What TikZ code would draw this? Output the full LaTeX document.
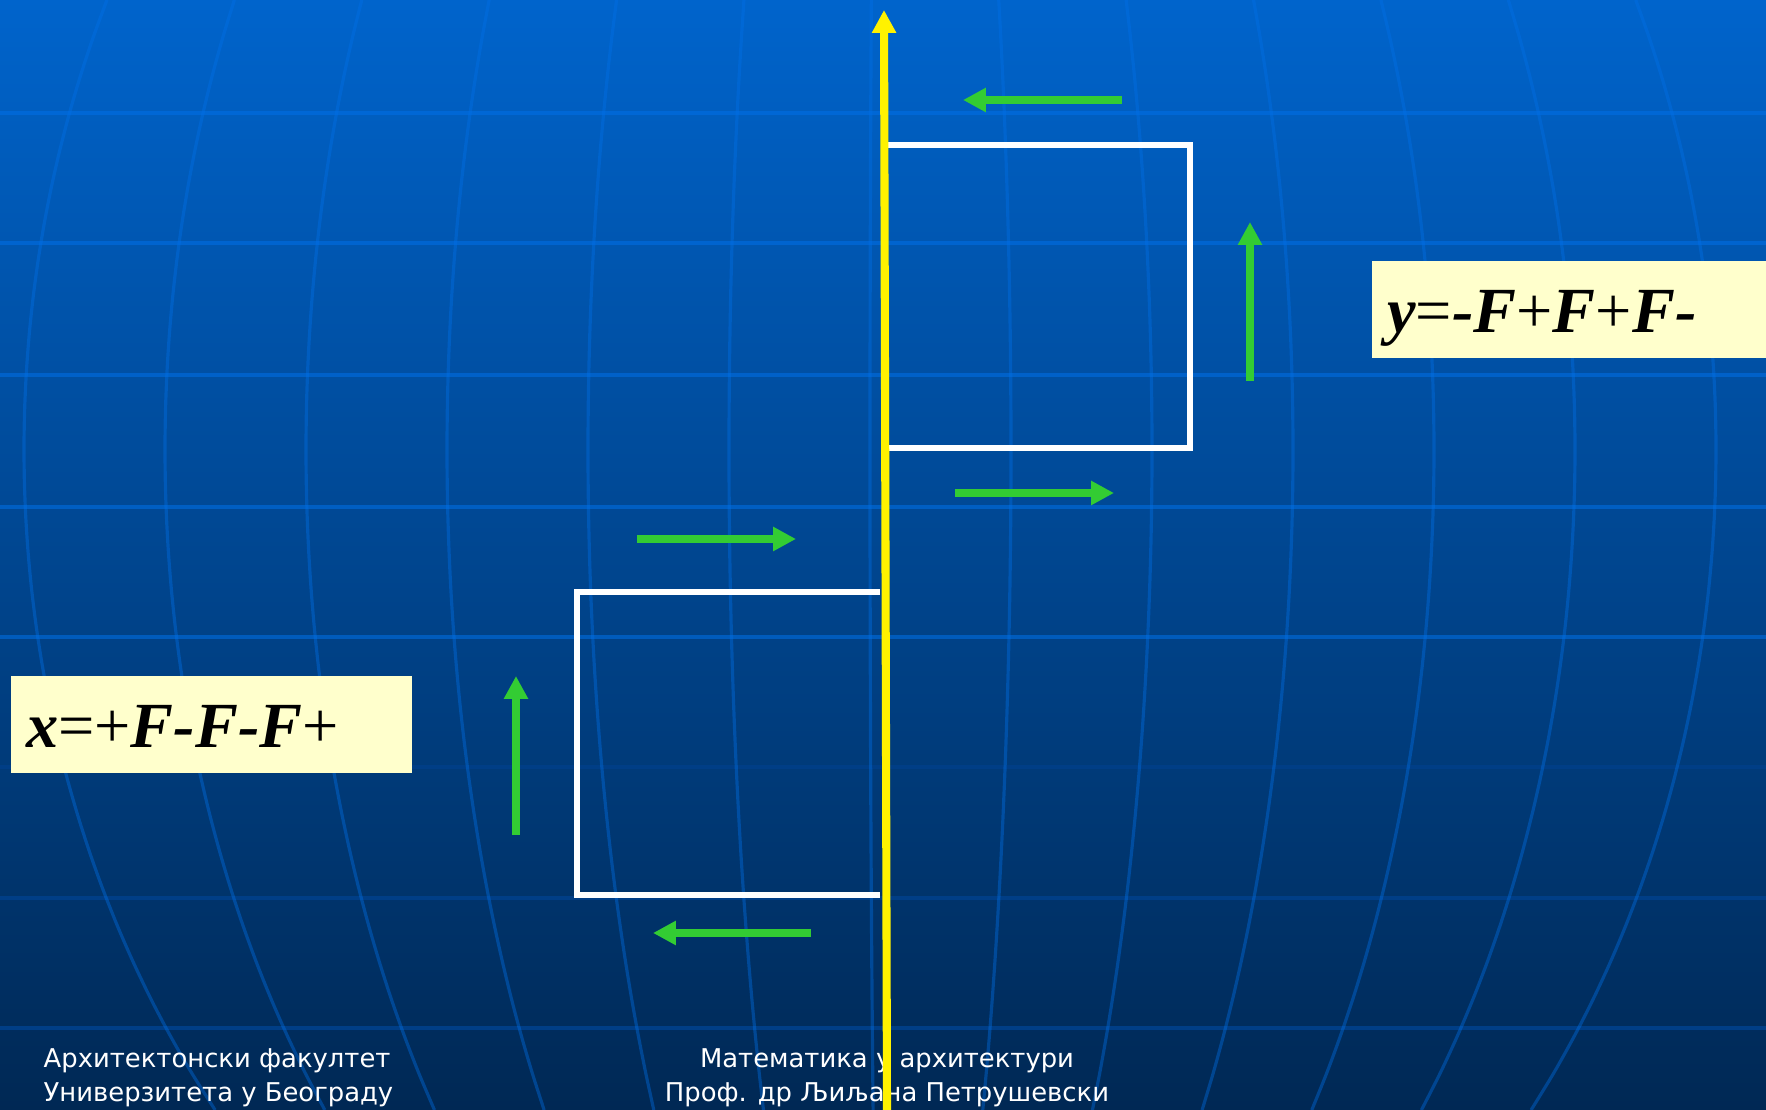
\documentclass[tikz,border=0pt]{standalone}
\usepackage{fontspec}
\usetikzlibrary{arrows.meta, positioning}
\newfontfamily\labelfont{Liberation Serif}
\newfontfamily\footfont{DejaVu Sans}
\definecolor{bgtop}{RGB}{0,100,204}
\definecolor{bgmid}{RGB}{0,78,160}
\definecolor{bgbot}{RGB}{0,40,84}
\definecolor{gridlite}{RGB}{0,112,232}
\definecolor{griddark}{RGB}{0,62,134}
\definecolor{turngreen}{RGB}{51,204,51}
\definecolor{labelfill}{RGB}{255,255,204}
\newcommand{\bi}[1]{\textbf{\textit{#1}}}

\begin{document}
\begin{tikzpicture}[
        x=0.01cm, y=-0.01cm,
        >={Triangle[length=6.5pt, width=6.5pt]},
        gridline/.style={gridlite, opacity=0.55, line width=0.9pt},
        lowgrid/.style={griddark, line width=0.9pt},
        meridian/.style={gridlite, opacity=0.4, line width=0.9pt},
        turn/.style={->, turngreen, line width=2.2pt},
        curve/.style={white, line width=1.85pt},
        axisline/.style={->, yellow, line width=2.3pt},
        labelbox/.style={
            fill=labelfill,
            anchor=north west,
            inner xsep=0.155cm,
            inner ysep=0pt,
            text width=3.7cm,
            align=left,
            text height=0.72cm,
            text depth=0.25cm,
            font=\labelfont\fontsize{18.3}{21}\selectfont
        },
        footer/.style={
            white,
            inner sep=0pt,
            font=\footfont\fontsize{7.35}{9.4}\selectfont
        }
    ]

    \useasboundingbox (0,0) rectangle (1766,1110);
    \shade[top color=bgtop, middle color=bgmid, bottom color=bgbot] (0,0) rectangle (1766,1110);

    % globe grid
    \foreach \h in {113,243,375,507,637}
        \draw[gridline] (0,\h) -- (1766,\h);
    \foreach \h in {767,898,1028}
        \draw[lowgrid] (0,\h) -- (1766,\h);
    \foreach \k in {-6,...,6}
        \draw[meridian] plot[domain=0:1110, samples=31, smooth]
            ({884+(-14+141*\k)*sqrt(1-((\x-450)/1050)^2)}, \x);

    % footer
    \node (faculty) [footer, anchor=base west, align=left] at (43,1101)
        {Архитектонски факултет\\Универзитета у Београду};
    \node (course) [footer, anchor=base, align=center] at (887,1101)
        {Математика у архитектури\\Проф. др Љиљана Петрушевски};

    % labels
    \node (ylabel) [labelbox] at (1371,260) {\bi{y}=\bi{-F}+\bi{F}+\bi{F-}};
    \node (xlabel) [labelbox] at (10,675) {\bi{x}=+\bi{F-F-F}+};

    % curve
    \coordinate (upNW) at (886,145);
    \coordinate (upSE) at (1190,448);
    \coordinate (upSW) at (886,448);
    \coordinate (loNE) at (880,592);
    \coordinate (loSW) at (577,895);
    \coordinate (loSE) at (880,895);
    \draw[curve] (upNW) -| (upSE) -- (upSW);
    \draw[curve] (loNE) -| (loSW) -- (loSE);

    % turtle direction
    \coordinate (t1s) at (1122,100);  \coordinate (t1e) at (963,100);
    \coordinate (t2s) at (1250,381);  \coordinate (t2e) at (1250,222);
    \coordinate (t3s) at (955,493);   \coordinate (t3e) at (1114,493);
    \coordinate (t4s) at (637,539);   \coordinate (t4e) at (796,539);
    \coordinate (t5s) at (516,835);   \coordinate (t5e) at (516,676);
    \coordinate (t6s) at (811,933);   \coordinate (t6e) at (653,933);
    \foreach \i in {1,...,6}
        \draw[turn] (t\i s) -- (t\i e);

    \coordinate (axisBot) at (887,1110);
    \coordinate (axisTop) at (884,10);
    \draw[axisline] (axisBot) -- (axisTop);

\end{tikzpicture}
\end{document}
